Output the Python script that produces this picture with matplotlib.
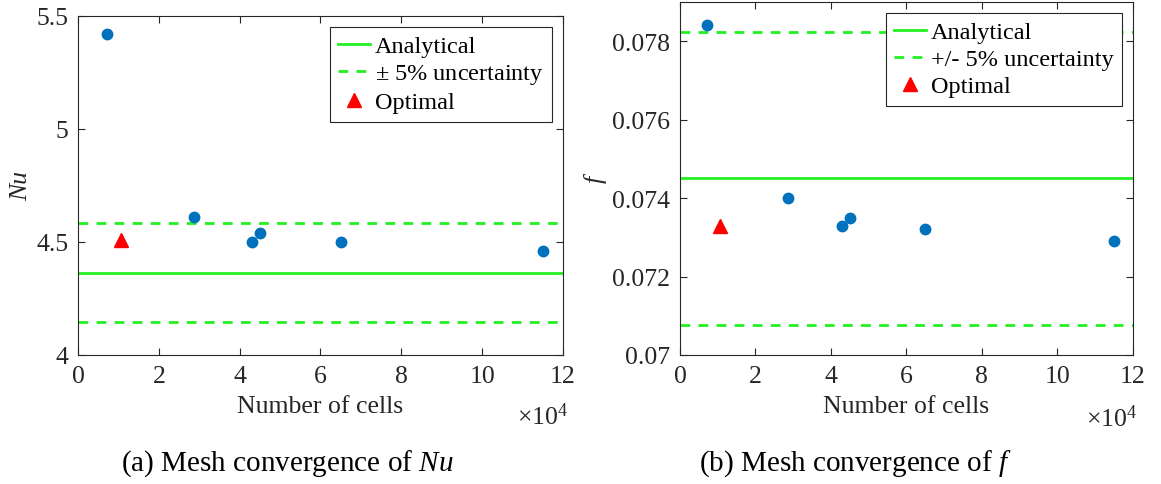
import matplotlib
matplotlib.use("Agg")
import matplotlib.pyplot as plt
from matplotlib.lines import Line2D

plt.rcParams['font.family'] = ['Liberation Serif', 'DejaVu Serif']
plt.rcParams['mathtext.fontset'] = 'custom'
plt.rcParams['mathtext.rm'] = 'Liberation Serif'
plt.rcParams['mathtext.it'] = 'Liberation Serif:italic'

# ---- data (cells in units of 1e4) ----
cells = [0.72, 2.87, 4.30, 4.50, 6.50, 11.50]
nu_values = [5.42, 4.61, 4.50, 4.54, 4.50, 4.46]
f_values = [0.0784, 0.0740, 0.0733, 0.0735, 0.0732, 0.0729]
opt_cells = [1.07]
opt_nu = [4.51]
opt_f = [0.0733]
nu_analytical = 4.364
f_analytical = 0.0745
uncertainty = 0.05

x_ticks = [0, 2, 4, 6, 8, 10, 12]
nu_ticks = [4, 4.5, 5, 5.5]
nu_ticklabels = ['4', '4.5', '5', '5.5']
f_ticks = [0.070, 0.072, 0.074, 0.076, 0.078]
f_ticklabels = ['0.07', '0.072', '0.074', '0.076', '0.078']

BLUE = '#0072BD'
GREEN = '#22f022'
AXC = '#262626'
FS_TICK = 18.5
FS_LAB = 18.5
FS_LEG = 17.5
FS_CAP = 21

fig = plt.figure(figsize=(11.61, 4.85), dpi=100)
ax1 = fig.add_axes([0.0672, 0.266, 0.4177, 0.699])
ax2 = fig.add_axes([0.5857, 0.266, 0.390, 0.728])


def style(ax, ylim, yticks, yticklabels):
    ax.set_xlim(0, 12)
    ax.set_ylim(*ylim)
    ax.set_xticks(x_ticks)
    ax.set_xticklabels([str(t) for t in x_ticks])
    ax.set_yticks(yticks)
    ax.set_yticklabels(yticklabels)
    ax.tick_params(direction='in', top=True, right=True, length=5,
                   width=0.8, colors=AXC, labelsize=FS_TICK, pad=7)
    for s in ax.spines.values():
        s.set_color(AXC)
        s.set_linewidth(0.8)
    ax.set_xlabel('Number of cells', fontsize=FS_LAB, color=AXC, labelpad=6)
    ax.text(1.01, -0.14, r'$\times$10$^4$', transform=ax.transAxes,
            fontsize=FS_LAB, color=AXC, ha='right', va='top')


def panel(ax, vals, optv, ana, ylim, yticks, yticklabels, pm_label, ylabel):
    ax.axhline(ana, color=GREEN, lw=2.0)
    ax.axhline(ana * (1 + uncertainty), color=GREEN, lw=2.0, ls=(0, (3.5, 3)))
    ax.axhline(ana * (1 - uncertainty), color=GREEN, lw=2.0, ls=(0, (3.5, 3)))
    ax.plot(cells, vals, 'o', color=BLUE, ms=7.5, zorder=3)
    ax.plot(opt_cells, optv, '^', color='red', ms=9.5, zorder=3)
    style(ax, ylim, yticks, yticklabels)
    ax.set_ylabel(ylabel, fontsize=FS_LAB, color=AXC, style='italic')
    handles = [Line2D([], [], color=GREEN, lw=2.0),
               Line2D([], [], color=GREEN, lw=2.0, ls=(0, (3.5, 3))),
               Line2D([], [], color='red', marker='^', ls='none', ms=9.5)]
    leg = ax.legend(handles, ['Analytical', pm_label, 'Optimal'],
                    loc='upper right', fontsize=FS_LEG, frameon=True,
                    fancybox=False, edgecolor=AXC, framealpha=1,
                    labelspacing=0.2, handlelength=1.3, handletextpad=0.2,
                    borderpad=0.35, borderaxespad=0.45)
    leg.get_frame().set_linewidth(0.8)


panel(ax1, nu_values, opt_nu, nu_analytical, (4, 5.5), nu_ticks, nu_ticklabels,
      r'$\pm$ 5% uncertainty', 'Nu')
panel(ax2, f_values, opt_f, f_analytical, (0.070, 0.079), f_ticks, f_ticklabels,
      '+/- 5% uncertainty', 'f')
ax1.yaxis.set_label_coords(-0.095, 0.5)

fig.text(0.247, 0.045, r'(a) Mesh convergence of $Nu$', fontsize=FS_CAP, ha='center', va='center')
fig.text(0.737, 0.045, r'(b) Mesh convergence of $f$', fontsize=FS_CAP, ha='center', va='center')

fig.savefig('out.png', dpi=100)
